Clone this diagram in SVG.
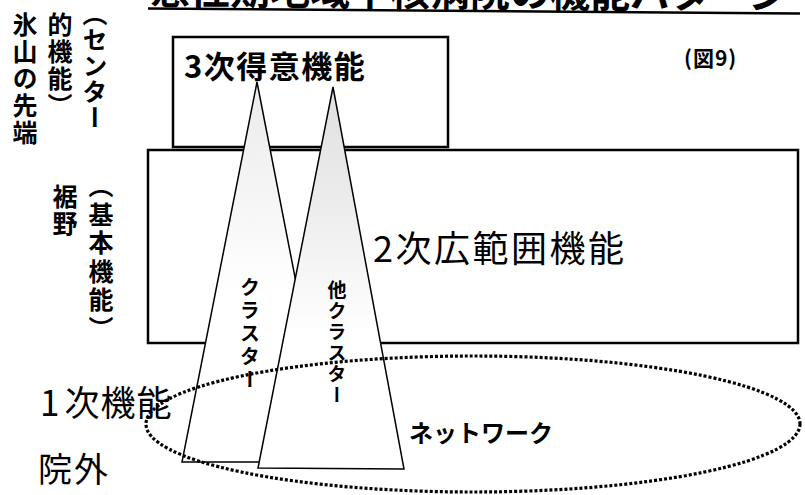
<svg xmlns="http://www.w3.org/2000/svg" width="805" height="495" viewBox="0 0 805 495">
  <style>
    .jp { font-family: "Noto Sans CJK JP", "Noto Sans", sans-serif; fill: #000; }
    .b { font-weight: bold; }
    .vt { writing-mode: vertical-rl; }
    .box { fill: #fff; stroke: #000; stroke-width: 2.5; }
    .tri { stroke: #000; stroke-width: 1.5; stroke-linejoin: miter; }
    .net { fill: none; stroke: #000; stroke-width: 3.2; stroke-dasharray: 3 2; }
  </style>
  <defs>
    <linearGradient id="gL" x1="0" y1="0" x2="0" y2="1">
      <stop offset="0" stop-color="#ebebeb"/>
      <stop offset="0.3" stop-color="#f5f5f5"/>
      <stop offset="0.55" stop-color="#ffffff"/>
    </linearGradient>
    <linearGradient id="gR" x1="0" y1="0" x2="0" y2="1">
      <stop offset="0" stop-color="#e0e0e0"/>
      <stop offset="0.3" stop-color="#ececec"/>
      <stop offset="0.65" stop-color="#ffffff"/>
    </linearGradient>
  </defs>
  <rect width="805" height="495" fill="#fff"/>

  <g id="title" transform="rotate(0.45 150 8)">
    <text class="jp b" x="150" y="4" font-size="40">急性期地域中核病院の機能パターン</text>
    <line x1="148" y1="8.5" x2="800" y2="8.5" stroke="#000" stroke-width="2.5"/>
  </g>

  <g id="side-labels">
    <text class="jp b vt" x="95" y="1" font-size="25" letter-spacing="1">（センター</text>
    <text class="jp b vt" x="60" y="12" font-size="25" letter-spacing="2">的機能）</text>
    <text class="jp b vt" x="25" y="12" font-size="25" letter-spacing="2">氷山の先端</text>
    <text class="jp b vt" x="65" y="184" font-size="25" letter-spacing="2">裾野</text>
    <text class="jp b vt" x="101" y="173" font-size="25" letter-spacing="3.5">（基本機能）</text>
  </g>

  <g id="box-tertiary">
    <rect class="box" x="173" y="37" width="275" height="110"/>
    <text class="jp b" x="184" y="78" font-size="31" letter-spacing="1.5">3次得意機能</text>
  </g>

  <g id="box-secondary">
    <rect class="box" x="148" y="150" width="650" height="193"/>
    <text class="jp" x="373" y="262" font-size="36" letter-spacing="2.5">2次広範囲機能</text>
  </g>

  <g id="figure-no">
    <text class="jp b" x="684" y="66" font-size="21" letter-spacing="1">(図9)</text>
  </g>

  <g id="cluster">
    <polygon class="tri" points="257,82 182,462 331,462" fill="url(#gL)"/>
    <text class="jp b vt" x="250" y="277" font-size="20" letter-spacing="3">クラスター</text>
  </g>

  <g id="other-cluster">
    <polygon class="tri" points="333,87 258,468 404,469" fill="url(#gR)"/>
    <text class="jp b vt" x="337" y="280" font-size="19" letter-spacing="2">他クラスター</text>
  </g>

  <g id="network">
    <ellipse class="net" cx="473" cy="424" rx="327" ry="68"/>
    <text class="jp b" x="409" y="442" font-size="24">ネットワーク</text>
  </g>

  <g id="level-labels">
    <text class="jp" x="40" y="416" font-size="35">1<tspan dx="5" letter-spacing="1">次機能</tspan></text>
    <text class="jp" x="38" y="482" font-size="34" letter-spacing="2">院外</text>
  </g>

  <g id="connectors"></g>
</svg>
